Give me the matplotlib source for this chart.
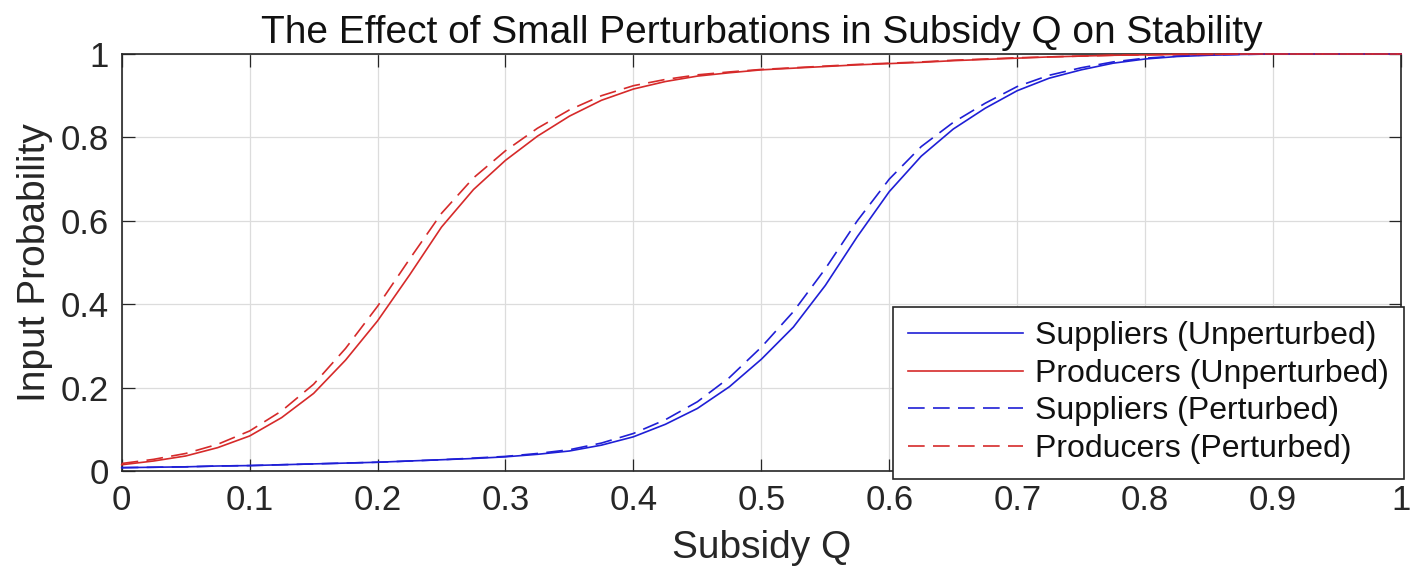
import matplotlib
matplotlib.use("Agg")
import matplotlib.pyplot as plt

plt.rcParams['font.family'] = ['Liberation Sans', 'DejaVu Sans']
plt.rcParams['lines.scale_dashes'] = False

# ---- data ----
subsidy_q = [0.000, 0.025, 0.050, 0.075, 0.100, 0.125, 0.150, 0.175, 0.200, 0.225,
             0.250, 0.275, 0.300, 0.325, 0.350, 0.375, 0.400, 0.425, 0.450, 0.475,
             0.500, 0.525, 0.550, 0.575, 0.600, 0.625, 0.650, 0.675, 0.700, 0.725,
             0.750, 0.775, 0.800, 0.825, 0.850, 0.875, 0.900, 0.925, 0.950, 0.975, 1.000]

suppliers_unperturbed = [0.008, 0.009, 0.010, 0.012, 0.013, 0.015, 0.017, 0.019, 0.021, 0.024,
                         0.027, 0.030, 0.034, 0.040, 0.048, 0.062, 0.082, 0.112, 0.150, 0.202,
                         0.268, 0.345, 0.445, 0.562, 0.670, 0.755, 0.820, 0.870, 0.912, 0.942,
                         0.962, 0.978, 0.988, 0.994, 0.997, 0.999, 1.000, 1.000, 1.000, 1.000, 1.000]

producers_unperturbed = [0.015, 0.024, 0.036, 0.056, 0.084, 0.128, 0.186, 0.266, 0.360, 0.470,
                         0.585, 0.675, 0.745, 0.803, 0.851, 0.889, 0.916, 0.934, 0.947, 0.955,
                         0.962, 0.966, 0.970, 0.974, 0.977, 0.980, 0.984, 0.987, 0.990, 0.993,
                         0.995, 0.997, 0.998, 0.999, 0.999, 1.000, 1.000, 1.000, 1.000, 1.000, 1.000]

suppliers_perturbed = [0.008, 0.009, 0.010, 0.012, 0.013, 0.015, 0.017, 0.019, 0.021, 0.024,
                       0.027, 0.031, 0.035, 0.042, 0.051, 0.067, 0.090, 0.123, 0.166, 0.224,
                       0.297, 0.382, 0.485, 0.600, 0.700, 0.778, 0.836, 0.882, 0.922, 0.949,
                       0.967, 0.981, 0.990, 0.995, 0.998, 0.999, 1.000, 1.000, 1.000, 1.000, 1.000]

producers_perturbed = [0.018, 0.028, 0.042, 0.064, 0.096, 0.144, 0.208, 0.294, 0.395, 0.508,
                       0.618, 0.703, 0.768, 0.822, 0.866, 0.900, 0.924, 0.939, 0.950, 0.957,
                       0.963, 0.967, 0.971, 0.975, 0.978, 0.981, 0.985, 0.988, 0.991, 0.993,
                       0.995, 0.997, 0.998, 0.999, 0.999, 1.000, 1.000, 1.000, 1.000, 1.000, 1.000]

series_labels = ['Suppliers (Unperturbed)', 'Producers (Unperturbed)',
                 'Suppliers (Perturbed)', 'Producers (Perturbed)']
x_ticks = [0, 0.1, 0.2, 0.3, 0.4, 0.5, 0.6, 0.7, 0.8, 0.9, 1]
x_tick_labels = ['0', '0.1', '0.2', '0.3', '0.4', '0.5', '0.6', '0.7', '0.8', '0.9', '1']
y_ticks = [0, 0.2, 0.4, 0.6, 0.8, 1]
y_tick_labels = ['0', '0.2', '0.4', '0.6', '0.8', '1']

# ---- figure ----
W, H = 1417, 586
fig = plt.figure(figsize=(W / 100, H / 100), dpi=100)
ax_l, ax_r, ax_t, ax_b = 121.7, 1401, 54, 471
ax = fig.add_axes([ax_l / W, 1 - ax_b / H, (ax_r - ax_l) / W, (ax_b - ax_t) / H])

blue = '#1f1fd6'
red = '#d62a2a'
dark = '#262626'
lw = 1.2
dash = (0, (12, 6))

common = dict(lw=lw, solid_joinstyle='round', dash_joinstyle='round', zorder=3, clip_on=False)
ax.plot(subsidy_q, suppliers_unperturbed, color=blue, label=series_labels[0], **common)
ax.plot(subsidy_q, producers_unperturbed, color=red, label=series_labels[1], **common)
ax.plot(subsidy_q, suppliers_perturbed, color=blue, linestyle=dash, label=series_labels[2], **common)
ax.plot(subsidy_q, producers_perturbed, color=red, linestyle=dash, label=series_labels[3], **common)

ax.set_xlim(0, 1)
ax.set_ylim(0, 1)
ax.set_xticks(x_ticks)
ax.set_xticklabels(x_tick_labels)
ax.set_yticks(y_ticks)
ax.set_yticklabels(y_tick_labels)

ax.grid(True, color='#dcdcdc', lw=0.9)
ax.set_axisbelow(True)
for s in ax.spines.values():
    s.set_color(dark)
    s.set_linewidth(1.2)
ax.tick_params(direction='in', length=9, width=0.9, color=dark, labelcolor=dark,
               labelsize=25, top=True, right=True, pad=9)

ax.set_title('The Effect of Small Perturbations in Subsidy Q on Stability',
             fontsize=28, color='#111111', pad=8)
ax.set_xlabel('Subsidy Q', fontsize=28, color=dark, labelpad=10)
ax.set_ylabel('Input Probability', fontsize=28, color=dark, labelpad=6)

leg = ax.legend(loc='lower right', bbox_to_anchor=(1.002, -0.018), borderaxespad=0,
                fontsize=23, handlelength=3.6, handletextpad=0.4, borderpad=0.45,
                labelspacing=0.24, fancybox=False, framealpha=1, edgecolor=dark)
leg.set_zorder(10)
leg.get_frame().set_linewidth(1.2)
for t in leg.get_texts():
    t.set_color('#111111')

fig.savefig('out.png', dpi=100)
